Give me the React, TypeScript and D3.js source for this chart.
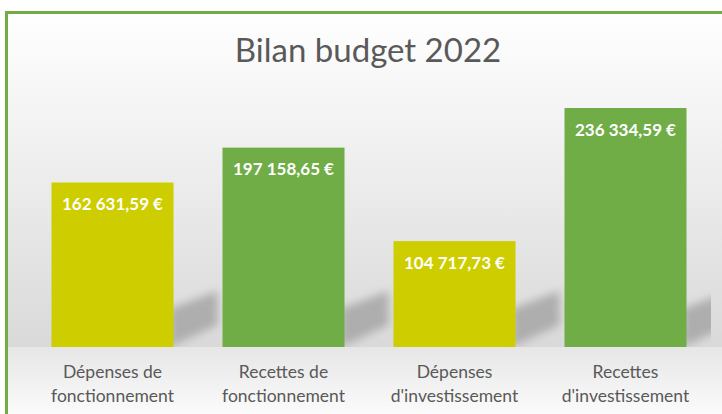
import React from "react";
import * as d3 from "d3";

const categories = [
  "Dépenses de fonctionnement",
  "Recettes de fonctionnement",
  "Dépenses d'investissement",
  "Recettes d'investissement",
];
const categoryLines = [
  ["Dépenses de", "fonctionnement"],
  ["Recettes de", "fonctionnement"],
  ["Dépenses", "d'investissement"],
  ["Recettes", "d'investissement"],
];
const values = [162631.59, 197158.65, 104717.73, 236334.59];
const kinds = ["dep", "rec", "dep", "rec"];
const title = "Bilan budget 2022";

const W = 722;
const H = 414;
const colorOf: Record<string, string> = { dep: "#cdcd00", rec: "#70ad47" };

const frLocale = d3.formatLocale({
  decimal: ",",
  thousands: " ",
  grouping: [3],
  currency: ["", " €"],
});
const fmt = (v: number) => frLocale.format(",.2f")(v) + " €";

export default function App() {
  const x = d3
    .scaleBand<string>()
    .domain(categories)
    .range([27, 711])
    .paddingInner(0.2865)
    .paddingOuter(0.1433);
  const y = d3.scaleLinear().domain([0, 236334.59]).range([347, 108]);
  const base = y(0);
  const font = "Lato, 'Open Sans', sans-serif";

  return (
    <svg
      width={W}
      height={H}
      style={{ position: "absolute", left: 0, top: 0, display: "block" }}
    >
      <defs>
        <linearGradient id="bg" x1="0" y1="0" x2="0" y2="1">
          <stop offset="0" stopColor="#ffffff" />
          <stop offset="0.25" stopColor="#f6f6f6" />
          <stop offset="1" stopColor="#d9d9d9" />
        </linearGradient>
        <linearGradient id="floor" x1="0" y1="0" x2="0" y2="1">
          <stop offset="0" stopColor="#e6e6e6" />
          <stop offset="1" stopColor="#fbfbfb" />
        </linearGradient>
        <filter id="blur" x="-50%" y="-50%" width="200%" height="200%">
          <feGaussianBlur stdDeviation="4" />
        </filter>
        <clipPath id="plotClip">
          <rect x={7} y={13} width={711 - 7} height={base - 13} />
        </clipPath>
      </defs>
      <rect x={0} y={0} width={W} height={H} fill="#ffffff" />
      <rect x={6} y={12} width={W} height={base - 12} fill="url(#bg)" />
      <rect x={6} y={base} width={W} height={H - base} fill="url(#floor)" />
      <path
        d={`M6.5,${H} V12.5 H${W}`}
        fill="none"
        stroke="#70ad47"
        strokeWidth={3}
      />
      <g clipPath="url(#plotClip)">
        {categories.map((c, i) => {
          const r = (x(c) as number) + x.bandwidth();
          return (
            <path
              key={"s" + i}
              d={`M${r - 4},${base} L${r - 4},${base - 38} L${r + 44},${base - 56} L${r + 44},${base - 22} Z`}
              fill="#a6a6a6"
              opacity={0.85}
              filter="url(#blur)"
            />
          );
        })}
      </g>
      {categories.map((c, i) => (
        <rect
          key={"b" + i}
          x={x(c)}
          y={y(values[i])}
          width={x.bandwidth()}
          height={base - y(values[i])}
          fill={colorOf[kinds[i]]}
        />
      ))}
      {categories.map((c, i) => (
        <text
          key={"v" + i}
          x={(x(c) as number) + x.bandwidth() / 2}
          y={y(values[i]) + 27.5}
          textAnchor="middle"
          fill="#ffffff"
          fontFamily={font}
          fontWeight="bold"
          fontSize={17}
        >
          {fmt(values[i])}
        </text>
      ))}
      {categories.map((c, i) => (
        <text
          key={"l" + i}
          x={(x(c) as number) + x.bandwidth() / 2}
          textAnchor="middle"
          fill="#595959"
          fontFamily={font}
          fontSize={17.5}
        >
          {categoryLines[i].map((ln, j) => (
            <tspan key={j} x={(x(c) as number) + x.bandwidth() / 2} y={378 + j * 24}>
              {ln}
            </tspan>
          ))}
        </text>
      ))}
      <text
        x={368}
        y={62}
        textAnchor="middle"
        fill="#595959"
        fontFamily={font}
        fontSize={33}
      >
        {title}
      </text>
    </svg>
  );
}
